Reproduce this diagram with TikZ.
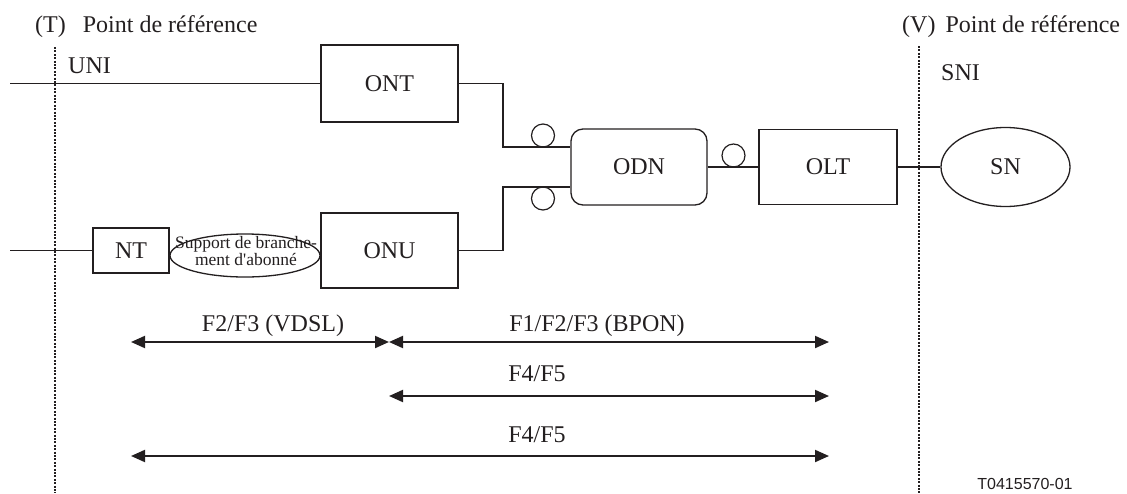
\documentclass[tikz,border=0pt]{standalone}
\usepackage{fontspec}
\setmainfont{Liberation Serif}[Ligatures=TeXOff]
\newfontfamily\arialfont{Liberation Sans}
\usetikzlibrary{arrows.meta,shapes.geometric}
\definecolor{ink}{RGB}{35,31,32}
\begin{document}
\begin{tikzpicture}[x=1pt,y=-1pt,
  every node/.style={text=ink},
  lbl/.style={font=\fontsize{24}{26}\selectfont, inner sep=0pt},
  box/.style={draw=ink, line width=1.3pt, rectangle, font=\fontsize{24}{26}\selectfont, inner sep=0pt},
  wire/.style={draw=ink, line width=1.3pt},
  thickwire/.style={draw=ink, line width=2pt},
  refline/.style={draw=ink, line width=1.8pt, dash pattern=on 2pt off 1.4pt},
  span/.style={draw=ink, line width=2pt, {Triangle[length=14pt,width=12pt]}-{Triangle[length=14pt,width=12pt]}},
  conn/.style={circle, draw=ink, line width=1.2pt, minimum size=23pt, inner sep=0pt}
]
\useasboundingbox (0,0) rectangle (1127,493);

% reference lines
\coordinate (tT) at (55,47);
\coordinate (bT) at (55,493);
\coordinate (tV) at (919,46);
\coordinate (bV) at (919,493);
\draw[refline] (tT) -- (bT);
\draw[refline] (tV) -- (bV);

% titles
\node[lbl, anchor=base west] (Ttitle) at (35,32) {(T)\hspace{17pt}Point de référence};
\node[lbl, anchor=base west] (Vtitle) at (902,32) {(V)\hspace{10pt}Point de référence};
\node[lbl, anchor=base west] (UNI) at (68,73) {UNI};
\node[lbl, anchor=base west] (SNI) at (941,80) {SNI};

% boxes
\node[box, minimum width=137pt, minimum height=77pt] (ONT) at (389.5,83.5) {ONT};
\node[box, minimum width=137pt, minimum height=75pt] (ONU) at (389.5,250.5) {ONU};
\node[box, rounded corners=12pt, minimum width=136pt, minimum height=76pt] (ODN) at (639,167) {ODN};
\node[box, minimum width=138pt, minimum height=75pt] (OLT) at (828,167) {OLT};
\node[box, ellipse, minimum width=129pt, minimum height=79pt] (SN) at (1005.5,167) {SN};
\node[box, minimum width=76pt, minimum height=45pt] (NT) at (131,250.5) {NT};
\node[box, ellipse, minimum width=150pt, minimum height=43pt] (SB) at (245,255.5) {};
\node[font=\fontsize{17.5}{15.5}\selectfont, align=center, inner sep=0pt] (SBt) at (246,251) {Support de branche-\\ment d'abonné};

% connectors
\coordinate (l1) at (10,83.5);
\coordinate (l2) at (10,250.5);
\draw[wire] (l1) -- (ONT.west);
\draw[wire] (l2) -- (NT.west);
\coordinate (j1) at (503,147);
\coordinate (j2) at (503,187);
\draw[wire] (ONT.east) -| (j1) -- (j1 -| ODN.west);
\draw[wire] (ONU.east) -| (j2) -- (j2 -| ODN.west);
\draw[thickwire] (ODN.east) -- (OLT.west);
\draw[thickwire] (OLT.east) -- (SN.west);

% optical connectors
\node[conn] (c1) at (543,135.5) {};
\node[conn] (c2) at (543,198.5) {};
\node[conn] (c3) at (733.5,155.5) {};

% spans
\coordinate (a1l) at (131,342);
\coordinate (a1m) at (389,342);
\coordinate (a1r) at (829,342);
\coordinate (a2l) at (389,396);
\coordinate (a2r) at (829,396);
\coordinate (a3l) at (131,456);
\coordinate (a3r) at (829,456);
\draw[span] (a1l) -- (a1m);
\draw[span] (a1m) -- (a1r);
\draw[span] (a2l) -- (a2r);
\draw[span] (a3l) -- (a3r);
\node[lbl, anchor=base] (Lvdsl) at (273,331) {F2/F3 (VDSL)};
\node[lbl, anchor=base] (Lbpon) at (597,331) {F1/F2/F3 (BPON)};
\node[lbl, anchor=base] (Lf45a) at (537,381) {F4/F5};
\node[lbl, anchor=base] (Lf45b) at (537,442) {F4/F5};

\node[font=\arialfont\fontsize{16}{18}\selectfont, inner sep=0pt, anchor=base] (ref) at (1025,489) {T0415570-01};
\end{tikzpicture}
\end{document}
